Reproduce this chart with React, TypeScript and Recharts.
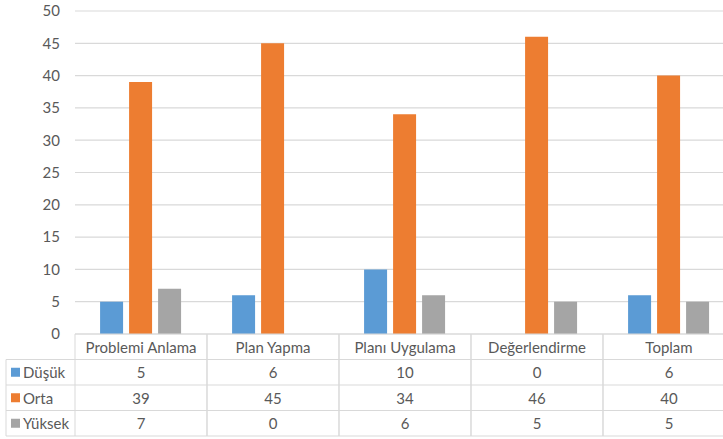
import React from 'react';
import { BarChart, Bar, XAxis, YAxis, CartesianGrid } from 'recharts';

const categories = ['Problemi Anlama', 'Plan Yapma', 'Planı Uygulama', 'Değerlendirme', 'Toplam'];
const dusuk = [5, 6, 10, 0, 6];
const orta = [39, 45, 34, 46, 40];
const yuksek = [7, 0, 6, 5, 5];
const yTicks = [0, 5, 10, 15, 20, 25, 30, 35, 40, 45, 50];

const series = [
    { key: 'dusuk', name: 'Düşük', color: '#5B9BD5', values: dusuk },
    { key: 'orta', name: 'Orta', color: '#ED7D31', values: orta },
    { key: 'yuksek', name: 'Yüksek', color: '#A5A5A5', values: yuksek },
];

const data = categories.map((name, i) => ({
    name,
    dusuk: dusuk[i],
    orta: orta[i],
    yuksek: yuksek[i],
}));

// layout of the plot and the data table underneath it
const CHART_W = 740;
const CHART_H = 439;
const Y_AXIS_W = 75;
const MARGIN = { top: 11, right: 5, bottom: 0, left: 0 };
const BAND = (CHART_W - Y_AXIS_W - MARGIN.right - MARGIN.left) / categories.length;
const PLOT_BOTTOM = 334;
const ROWS = [PLOT_BOTTOM, 359.5, 385, 410.5, 436];
const TABLE_LEFT = 6;
const BORDER = '#D9D9D9';
const TEXT = '#595959';
const FONT = 'Lato, "Noto Sans", sans-serif';

// each x-axis tick draws its own column of the data table
function TableColumn(props: any) {
    const { x, payload } = props;
    const i = categories.indexOf(payload.value);
    const left = x - BAND / 2;
    const mid = (a: number, b: number) => (a + b) / 2;

    return (
        <g fontFamily={FONT} fontSize={15} fill={TEXT}>
            <line x1={left} y1={ROWS[0]} x2={left} y2={ROWS[4]} stroke={BORDER} />
            <line x1={left + BAND} y1={ROWS[0]} x2={left + BAND} y2={ROWS[4]} stroke={BORDER} />
            <text x={x} y={mid(ROWS[0], ROWS[1])} textAnchor="middle" dominantBaseline="central">
                {payload.value}
            </text>
            {series.map((s, r) => (
                <g key={s.key}>
                    <line x1={left} y1={ROWS[r + 1]} x2={left + BAND} y2={ROWS[r + 1]} stroke={BORDER} />
                    <text x={x} y={mid(ROWS[r + 1], ROWS[r + 2])} textAnchor="middle" dominantBaseline="central">
                        {s.values[i]}
                    </text>
                </g>
            ))}
            <line x1={left} y1={ROWS[4]} x2={left + BAND} y2={ROWS[4]} stroke={BORDER} />
            {i === 0 && (
                <g>
                    <line x1={TABLE_LEFT} y1={ROWS[1]} x2={TABLE_LEFT} y2={ROWS[4]} stroke={BORDER} />
                    {series.map((s, r) => (
                        <g key={s.key}>
                            <line x1={TABLE_LEFT} y1={ROWS[r + 1]} x2={left} y2={ROWS[r + 1]} stroke={BORDER} />
                            <rect x={11} y={mid(ROWS[r + 1], ROWS[r + 2]) - 4.5} width={9} height={9} fill={s.color} />
                            <text x={23} y={mid(ROWS[r + 1], ROWS[r + 2])} dominantBaseline="central">
                                {s.name}
                            </text>
                        </g>
                    ))}
                    <line x1={TABLE_LEFT} y1={ROWS[4]} x2={left} y2={ROWS[4]} stroke={BORDER} />
                </g>
            )}
        </g>
    );
}

export default function App() {
    return (
        <div style={{ position: 'absolute', left: 0, top: 0, width: 723, height: 439, overflow: 'hidden', background: '#fff' }}>
            <BarChart
                width={CHART_W}
                height={CHART_H}
                data={data}
                margin={MARGIN}
                barCategoryGap="19%"
                barGap={6}
            >
                <CartesianGrid vertical={false} stroke={BORDER} strokeWidth={1.2} />
                <XAxis
                    dataKey="name"
                    height={CHART_H - PLOT_BOTTOM}
                    axisLine={{ stroke: BORDER, strokeWidth: 1.2 }}
                    tickLine={false}
                    tick={<TableColumn />}
                    interval={0}
                />
                <YAxis
                    width={Y_AXIS_W}
                    domain={[0, 50]}
                    ticks={yTicks}
                    axisLine={false}
                    tickLine={false}
                    tickSize={0}
                    tickMargin={15}
                    tick={{ fill: TEXT, fontSize: 15, fontFamily: FONT }}
                />
                {series.map((s) => (
                    <Bar key={s.key} dataKey={s.key} name={s.name} fill={s.color} isAnimationActive={false} />
                ))}
            </BarChart>
        </div>
    );
}
